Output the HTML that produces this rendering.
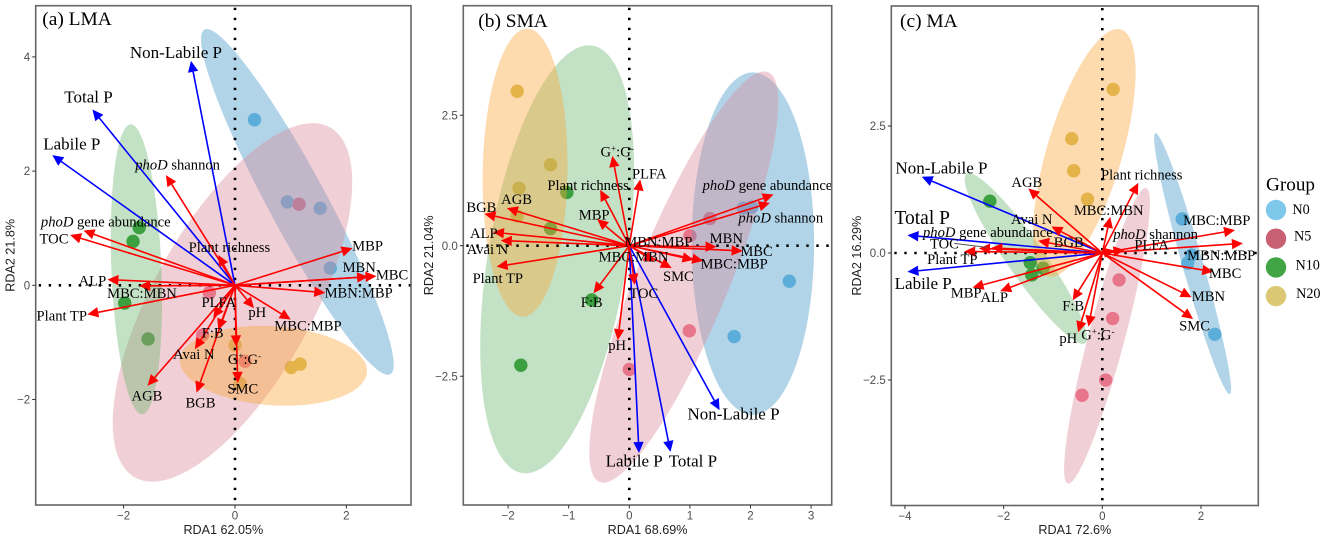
<!DOCTYPE html>
<html lang="en">
<head>
<meta charset="utf-8">
<title>RDA biplots: LMA, SMA and MA</title>
<style>
html,body{margin:0;padding:0;background:#fff;}
svg{display:block;}
text{font-family:"Liberation Serif",serif;fill:#000;}
.sans{font-family:"Liberation Sans",sans-serif;}
</style>
</head>
<body>
<svg id="figure" xmlns="http://www.w3.org/2000/svg" width="1325" height="541" viewBox="0 0 1325 541"></svg>
<script>
/* ---------- shared categories ---------- */
const groupNames = ["N0", "N5", "N10", "N20"];

/* ---------- (a) LMA ---------- */
const lmaXTicks = [-2, 0, 2];
const lmaXTickLabels = ["\u22122", "0", "2"];
const lmaYTicks = [-2, 0, 2, 4];
const lmaYTickLabels = ["\u22122", "0", "2", "4"];
const lmaPhosNames = ["Non-Labile P", "Total P", "Labile P"];
const lmaPhosX = [-0.79, -2.56, -3.28];
const lmaPhosY = [3.93, 3.08, 2.28];
const lmaPhosLabelX = [-1.06, -2.63, -2.93];
const lmaPhosLabelY = [4.08, 3.30, 2.48];
const lmaEnvNames = ["phoD shannon", "Plant richness", "phoD gene abundance", "TOC", "MBP", "MBN", "MBC", "MBN:MBP", "ALP", "MBC:MBN", "Plant TP", "PLFA", "F:B", "Avai N", "AGB", "BGB", "SMC", "G+:G-", "pH", "MBC:MBP"];
const lmaEnvX = [-1.24, -0.30, -2.72, -2.96, 2.11, 2.39, 2.54, 1.62, -2.29, -1.72, -2.65, -0.39, -0.30, -0.72, -1.57, -0.69, 0.05, 0.02, 0.34, 1.00];
const lmaEnvY = [1.93, 0.53, 0.96, 0.88, 0.65, 0.15, 0.16, -0.13, 0.10, -0.01, -0.51, -0.57, -0.78, -1.12, -1.76, -1.88, -1.71, -1.07, -0.40, -0.60];
const lmaEnvLabelX = [-1.03, -0.10, -2.32, -3.25, 2.38, 2.23, 2.82, 2.22, -2.56, -1.67, -3.11, -0.29, -0.40, -0.74, -1.58, -0.62, 0.14, 0.17, 0.40, 1.31];
const lmaEnvLabelY = [2.11, 0.67, 1.11, 0.82, 0.69, 0.315, 0.19, -0.13, 0.08, -0.14, -0.53, -0.30, -0.83, -1.21, -1.93, -2.06, -1.81, -1.29, -0.47, -0.71];
const lmaScoresX = [[0.35, 0.94, 1.53, 1.71], [1.15, -0.46, -0.58, 0.18], [-1.72, -1.83, -1.98, -1.56], [0.00, 0.09, 1.01, 1.17]];
const lmaScoresY = [[2.90, 1.46, 1.35, 0.30], [1.42, -0.13, -0.87, -1.33], [1.01, 0.77, -0.31, -0.94], [-1.05, -1.72, -1.44, -1.38]];
const lmaEllipseCx = [1.12, -0.045, -1.77, 0.69];
const lmaEllipseCy = [1.46, -0.30, 0.28, -1.41];
const lmaEllipseRx = [1.73, 2.15, 0.46, 1.68];
const lmaEllipseRy = [3.03, 3.14, 2.54, 0.70];
const lmaEllipseRho = [-0.94, 0.67, -0.22, -0.13];

/* ---------- (b) SMA ---------- */
const smaXTicks = [-2, -1, 0, 1, 2, 3];
const smaXTickLabels = ["\u22122", "\u22121", "0", "1", "2", "3"];
const smaYTicks = [-2.5, 0, 2.5];
const smaYTickLabels = ["\u22122.5", "0.0", "2.5"];
const smaPhosNames = ["Non-Labile P", "Labile P", "Total P"];
const smaPhosX = [1.49, 0.16, 0.68];
const smaPhosY = [-3.15, -3.97, -3.95];
const smaPhosLabelX = [1.72, 0.08, 1.05];
const smaPhosLabelY = [-3.22, -4.12, -4.12];
const smaEnvNames = ["G+:G-", "PLFA", "Plant richness", "MBP", "phoD gene abundance", "phoD shannon", "AGB", "BGB", "ALP", "Avai N", "Plant TP", "MBN:MBP", "MBN", "MBC", "MBC:MBN", "MBC:MBP", "SMC", "TOC", "F:B", "pH"];
const smaEnvX = [-0.28, 0.18, -0.48, -0.53, 2.38, 2.32, -2.02, -2.39, -2.25, -2.12, -2.19, 1.06, 1.44, 1.87, 0.42, 1.22, 0.70, 0.09, -0.59, -0.19];
const smaEnvY = [1.72, 1.27, 1.07, 0.51, 0.98, 0.82, 0.72, 0.61, 0.26, 0.10, -0.40, -0.27, -0.02, -0.10, -0.31, -0.29, -0.43, -0.75, -0.91, -1.81];
const smaEnvLabelX = [-0.20, 0.33, -0.68, -0.58, 2.28, 2.50, -1.86, -2.44, -2.40, -2.34, -2.17, 0.48, 1.60, 2.10, 0.07, 1.73, 0.81, 0.24, -0.62, -0.20];
const smaEnvLabelY = [1.80, 1.38, 1.16, 0.59, 1.16, 0.54, 0.89, 0.74, 0.24, -0.07, -0.62, 0.08, 0.14, -0.10, -0.21, -0.34, -0.58, -0.91, -1.08, -1.91];
const smaScoresX = [[1.88, 2.02, 2.64, 1.73], [1.33, 1.00, 0.99, 0.00], [-1.03, -1.30, -0.62, -1.79], [-1.85, -1.30, -1.82, -1.85]];
const smaScoresY = [[0.72, 0.74, -0.68, -1.74], [0.52, 0.19, -1.63, -2.37], [1.02, 0.33, -1.04, -2.29], [2.96, 1.55, 1.10, 0.57]];
const smaEllipseCx = [2.04, 0.90, -1.19, -1.72];
const smaEllipseCy = [0.04, -0.60, -0.26, 1.40];
const smaEllipseRx = [1.01, 1.56, 1.27, 0.70];
const smaEllipseRy = [3.28, 3.94, 4.10, 2.76];
const smaEllipseRho = [0.00, 0.85, 0.41, 0.05];

/* ---------- (c) MA ---------- */
const maXTicks = [-4, -2, 0, 2];
const maXTickLabels = ["\u22124", "\u22122", "0", "2"];
const maYTicks = [-2.5, 0, 2.5];
const maYTickLabels = ["\u22122.5", "0.0", "2.5"];
const maPhosNames = ["Non-Labile P", "Total P", "Labile P"];
const maPhosX = [-3.66, -3.95, -3.95];
const maPhosY = [1.50, 0.35, -0.37];
const maPhosLabelX = [-3.26, -3.65, -3.63];
const maPhosLabelY = [1.68, 0.70, -0.60];
const maEnvNames = ["AGB", "Plant richness", "MBC:MBN", "Avai N", "BGB", "phoD gene abundance", "TOC", "Plant TP", "MBC:MBP", "MBN:MBP", "MBC", "MBN", "SMC", "phoD shannon", "PLFA", "G+:G-", "pH", "F:B", "ALP", "MBP"];
const maEnvX = [-1.50, 0.73, 0.16, -1.03, -1.30, -2.25, -2.50, -2.80, 2.69, 2.85, 2.25, 1.81, 1.84, 0.25, 0.45, -0.28, -0.49, -0.60, -2.07, -2.63];
const maEnvY = [1.27, 1.38, 0.71, 0.52, 0.24, 0.10, 0.09, 0.03, 0.45, 0.19, -0.37, -0.87, -1.30, 0.05, 0.06, -1.45, -1.56, -0.93, -0.75, -0.68];
const maEnvLabelX = [-1.53, 0.80, 0.13, -1.43, -0.68, -2.32, -3.20, -3.04, 2.32, 2.41, 2.49, 2.15, 1.87, 1.08, 1.00, -0.09, -0.69, -0.59, -2.19, -2.76];
const maEnvLabelY = [1.39, 1.54, 0.84, 0.67, 0.21, 0.41, 0.18, -0.12, 0.65, -0.04, -0.40, -0.85, -1.43, 0.37, 0.16, -1.61, -1.68, -1.04, -0.87, -0.78];
const maScoresX = [[1.62, 1.81, 1.73, 2.28], [0.34, 0.21, 0.07, -0.41], [-2.28, -1.46, -1.43, -1.20], [0.22, -0.62, -0.58, -0.30]];
const maScoresY = [[0.67, -0.04, -0.20, -1.60], [-0.53, -1.29, -2.50, -2.80], [1.02, -0.19, -0.43, -0.30], [3.22, 2.25, 1.62, 1.06]];
const maEllipseCx = [1.83, 0.095, -1.55, -0.365];
const maEllipseCy = [-0.21, -1.63, -0.11, 1.97];
const maEllipseRx = [0.78, 0.87, 1.24, 1.04];
const maEllipseRy = [2.57, 2.91, 1.68, 2.44];
const maEllipseRho = [-0.96, 0.90, -0.93, 0.65];
const maTocLeaderX = [-3.00, -2.34];
const maTocLeaderY = [0.19, 0.11];

/* ---------- styling ---------- */
const NS = "http://www.w3.org/2000/svg";
const svg = document.getElementById("figure");
const POINT_COLORS = ["rgb(110,190,230)", "rgb(240,105,130)", "rgb(30,147,37)", "rgb(213,190,90)"];
const ELLIPSE_COLORS = ["rgb(62,147,200)", "rgb(217,137,152)", "rgb(105,180,107)", "rgb(250,165,52)"];
const LEGEND_COLORS = ["rgb(125,200,235)", "rgb(200,95,115)", "rgb(65,165,70)", "rgb(220,200,115)"];

function make(tag, attrs, parent) {
  const el = document.createElementNS(NS, tag);
  for (const k in attrs) el.setAttribute(k, attrs[k]);
  parent.appendChild(el);
  return el;
}
function slug(s) {
  return s.toLowerCase().replace(/[^a-z0-9]+/g, "-").replace(/^-|-$/g, "");
}
function fillLabel(t, name) {
  if (name.indexOf("phoD ") === 0) {
    const i = make("tspan", {"font-style": "italic"}, t);
    i.textContent = "phoD";
    const r = make("tspan", {}, t);
    r.textContent = name.slice(4);
  } else if (name === "G+:G-") {
    const a = make("tspan", {}, t); a.textContent = "G";
    const b = make("tspan", {"font-size": "9", "baseline-shift": "super"}, t); b.textContent = "+";
    const c = make("tspan", {}, t); c.textContent = ":G";
    const d = make("tspan", {"font-size": "9", "baseline-shift": "super"}, t); d.textContent = "-";
  } else {
    t.textContent = name;
  }
}

function drawPanel(p) {
  const g = make("g", {}, svg);
  
  

  const sx = v => p.left + (v - p.xMin) / (p.xMax - p.xMin) * (p.right - p.left);
  const sy = v => p.bottom - (v - p.yMin) / (p.yMax - p.yMin) * (p.bottom - p.top);

  /* background */
  const bg = make("rect", {x: p.left, y: p.top, width: p.right - p.left, height: p.bottom - p.top, fill: "#fff"}, g);
  
  

  /* sample points, underneath the ellipses */
  groupNames.forEach((grp, gi) => {
    p.scoresX[gi].forEach((vx, i) => {
      const c = make("circle", {cx: sx(vx), cy: sy(p.scoresY[gi][i]), r: 6.7, fill: POINT_COLORS[gi]}, g);
      
      
    });
  });

  /* group ellipses */
  groupNames.forEach((grp, gi) => {
    const n = 96, pts = [];
    const rho = p.eRho[gi], q = Math.sqrt(1 - rho * rho);
    for (let k = 0; k < n; k++) {
      const t = k / n * 2 * Math.PI;
      const ex = p.eCx[gi] + p.eRx[gi] * Math.cos(t);
      const ey = p.eCy[gi] + p.eRy[gi] * (rho * Math.cos(t) + q * Math.sin(t));
      pts.push(sx(ex).toFixed(2) + "," + sy(ey).toFixed(2));
    }
    const e = make("polygon", {points: pts.join(" "), fill: ELLIPSE_COLORS[gi], "fill-opacity": 0.4}, g);
    
    
  });

  /* dotted zero lines */
  const h = make("line", {x1: p.left + 3, x2: p.right, y1: sy(0), y2: sy(0), stroke: "#000", "stroke-width": 2.6, "stroke-dasharray": "2.4 7.6"}, g);
  
  
  const v = make("line", {x1: sx(0), x2: sx(0), y1: p.top + 2, y2: p.bottom, stroke: "#000", "stroke-width": 2.6, "stroke-dasharray": "2.4 7.6"}, g);
  
  

  /* arrows */
  function arrow(name, vx, vy, color, kind) {
    const x0 = sx(0), y0 = sy(0), x1 = sx(vx), y1 = sy(vy);
    const dx = x1 - x0, dy = y1 - y0, len = Math.hypot(dx, dy) || 1;
    const ux = dx / len, uy = dy / len;
    const headLen = Math.min(11, len), headHalf = 5.2;
    const bx = x1 - ux * headLen, by = y1 - uy * headLen;
    const a = make("g", {}, g);
    
    
    make("line", {x1: x0, y1: y0, x2: bx, y2: by, stroke: color, "stroke-width": 1.6}, a);
    make("polygon", {points: x1 + "," + y1 + " " + (bx - uy * headHalf) + "," + (by + ux * headHalf) + " " + (bx + uy * headHalf) + "," + (by - ux * headHalf), fill: color}, a);
  }
  p.phosNames.forEach((n, i) => arrow(n, p.phosX[i], p.phosY[i], "#0000ff", "phosphorus"));
  p.envNames.forEach((n, i) => arrow(n, p.envX[i], p.envY[i], "#ff0000", "variable"));

  /* leader line */
  if (p.leaderX) {
    const l = make("line", {x1: sx(p.leaderX[0]), y1: sy(p.leaderY[0]), x2: sx(p.leaderX[1]), y2: sy(p.leaderY[1]), stroke: "#555", "stroke-width": 1}, g);
    
    
  }

  /* labels */
  p.envNames.forEach((n, i) => {
    const t = make("text", {x: sx(p.envLabelX[i]), y: sy(p.envLabelY[i]), dy: "0.33em", "text-anchor": "middle", "font-size": 14.6}, g);
    
    
    fillLabel(t, n);
  });
  p.phosNames.forEach((n, i) => {
    const size = (p.key === "ma" && n === "Total P") ? 19.5 : 17;
    const t = make("text", {x: sx(p.phosLabelX[i]), y: sy(p.phosLabelY[i]), dy: "0.33em", "text-anchor": "middle", "font-size": size}, g);
    
    
    t.textContent = n;
  });

  /* border */
  const b = make("rect", {x: p.left, y: p.top, width: p.right - p.left, height: p.bottom - p.top, fill: "none", stroke: "#666", "stroke-width": 1.6}, g);
  
  

  /* ticks */
  p.xTicks.forEach((tv, i) => {
    const tick = make("line", {x1: sx(tv), x2: sx(tv), y1: p.bottom, y2: p.bottom + 3.5, stroke: "#333", "stroke-width": 1}, g);
    
    
    const t = make("text", {x: sx(tv), y: p.bottom + 14.5, "text-anchor": "middle", "font-size": 11.5, class: "sans", style: "fill:#4d4d4d"}, g);
    
    
    t.textContent = p.xTickLabels[i];
  });
  p.yTicks.forEach((tv, i) => {
    const tick = make("line", {x1: p.left - 3.5, x2: p.left, y1: sy(tv), y2: sy(tv), stroke: "#333", "stroke-width": 1}, g);
    
    
    const t = make("text", {x: p.left - 5.5, y: sy(tv), dy: "0.36em", "text-anchor": "end", "font-size": 11.5, class: "sans", style: "fill:#4d4d4d"}, g);
    
    
    t.textContent = p.yTickLabels[i];
  });

  /* axis titles */
  const xt = make("text", {x: (p.left + p.right) / 2, y: 534, "text-anchor": "middle", "font-size": 12.6, class: "sans", style: "fill:#222"}, g);
  
  
  xt.textContent = p.xTitle;
  const yMid = (p.top + p.bottom) / 2;
  const yt = make("text", {x: p.yTitleX, y: yMid, transform: "rotate(-90 " + p.yTitleX + " " + yMid + ")", "text-anchor": "middle", "font-size": 12.6, class: "sans", style: "fill:#222"}, g);
  
  
  yt.textContent = p.yTitle;

  /* panel title */
  const pt = make("text", {x: p.titleX, y: p.titleY, "font-size": 19.4}, g);
  
  
  pt.textContent = p.title;
}

drawPanel({
  key: "lma", title: "(a) LMA", titleX: 42.3, titleY: 25,
  left: 35.7, right: 411, top: 5.7, bottom: 505,
  xMin: -3.578, xMax: 3.16, yMin: -3.848, yMax: 4.897,
  xTitle: "RDA1 62.05%", yTitle: "RDA2 21.8%", yTitleX: 14.5,
  xTicks: lmaXTicks, xTickLabels: lmaXTickLabels, yTicks: lmaYTicks, yTickLabels: lmaYTickLabels,
  phosNames: lmaPhosNames, phosX: lmaPhosX, phosY: lmaPhosY, phosLabelX: lmaPhosLabelX, phosLabelY: lmaPhosLabelY,
  envNames: lmaEnvNames, envX: lmaEnvX, envY: lmaEnvY, envLabelX: lmaEnvLabelX, envLabelY: lmaEnvLabelY,
  scoresX: lmaScoresX, scoresY: lmaScoresY,
  eCx: lmaEllipseCx, eCy: lmaEllipseCy, eRx: lmaEllipseRx, eRy: lmaEllipseRy, eRho: lmaEllipseRho
});
drawPanel({
  key: "sma", title: "(b) SMA", titleX: 478.3, titleY: 27,
  left: 463.3, right: 831.7, top: 5.7, bottom: 505,
  xMin: -2.739, xMax: 3.34, yMin: -4.967, yMax: 4.598,
  xTitle: "RDA1 68.69%", yTitle: "RDA2 21.04%", yTitleX: 433,
  xTicks: smaXTicks, xTickLabels: smaXTickLabels, yTicks: smaYTicks, yTickLabels: smaYTickLabels,
  phosNames: smaPhosNames, phosX: smaPhosX, phosY: smaPhosY, phosLabelX: smaPhosLabelX, phosLabelY: smaPhosLabelY,
  envNames: smaEnvNames, envX: smaEnvX, envY: smaEnvY, envLabelX: smaEnvLabelX, envLabelY: smaEnvLabelY,
  scoresX: smaScoresX, scoresY: smaScoresY,
  eCx: smaEllipseCx, eCy: smaEllipseCy, eRx: smaEllipseRx, eRy: smaEllipseRy, eRho: smaEllipseRho
});
drawPanel({
  key: "ma", title: "(c) MA", titleX: 900, titleY: 27,
  left: 891.3, right: 1258.3, top: 6, bottom: 505.5,
  xMin: -4.277, xMax: 3.162, yMin: -4.97, yMax: 4.862,
  xTitle: "RDA1 72.6%", yTitle: "RDA2 16.29%", yTitleX: 861,
  xTicks: maXTicks, xTickLabels: maXTickLabels, yTicks: maYTicks, yTickLabels: maYTickLabels,
  phosNames: maPhosNames, phosX: maPhosX, phosY: maPhosY, phosLabelX: maPhosLabelX, phosLabelY: maPhosLabelY,
  envNames: maEnvNames, envX: maEnvX, envY: maEnvY, envLabelX: maEnvLabelX, envLabelY: maEnvLabelY,
  scoresX: maScoresX, scoresY: maScoresY,
  eCx: maEllipseCx, eCy: maEllipseCy, eRx: maEllipseRx, eRy: maEllipseRy, eRho: maEllipseRho,
  leaderX: maTocLeaderX, leaderY: maTocLeaderY
});

/* legend */
const legend = make("g", {}, svg);


const legendTitle = make("text", {x: 1266, y: 190.5, "font-size": 19.2}, legend);


legendTitle.textContent = "Group";
groupNames.forEach((grp, i) => {
  const cy = 210 + i * 28.7;
  const dot = make("circle", {cx: 1276, cy: cy, r: 10.2, fill: LEGEND_COLORS[i]}, legend);
  
  
  const labelX = [1301, 1302.7, 1307.7, 1308.3][i];
  const t = make("text", {x: labelX, y: cy - (i === 0 ? 0.7 : 2.8), dy: "0.33em", "text-anchor": "middle", "font-size": 14.2}, legend);
  
  
  t.textContent = grp;
});
</script>
</body>
</html>
